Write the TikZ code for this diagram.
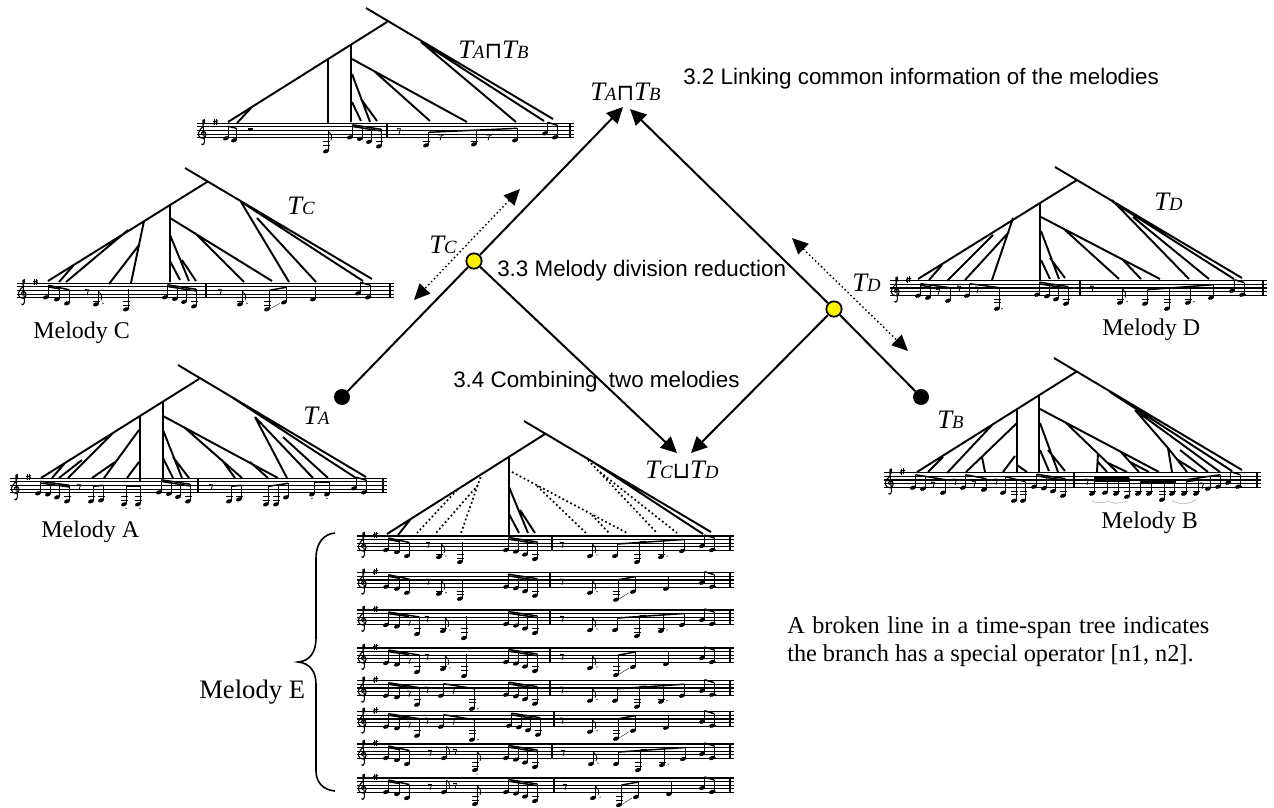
\documentclass[tikz,border=0pt]{standalone}
\usepackage{fontspec}
\setmainfont{Liberation Serif}
\newfontfamily\gothicfont{Liberation Sans}
\newfontfamily\symbolfont{DejaVu Sans}
\usetikzlibrary{positioning,arrows.meta}

\tikzset{
  tree/.style={line width=1.45pt},
  brokentree/.style={line width=1.3pt,dotted},
  staffline/.style={line width=0.8pt},
  stemline/.style={line width=0.6pt},
  beamline/.style={line width=1.1pt},
  link/.style={line width=1.5pt},
  linkarrow/.style={line width=1.5pt,-{Triangle[length=12pt,width=11.5pt]}},
  dotarrow/.style={line width=1.1pt,dotted,{Triangle[length=12pt,width=11pt]}-{Triangle[length=12pt,width=11pt]}},
  leafdot/.style={circle,fill=black,minimum size=12pt,inner sep=0pt},
  opdot/.style={circle,fill=yellow,draw=black,line width=1.3pt,minimum size=11.5pt,inner sep=0pt},
  treelabel/.style={anchor=base west,inner sep=0pt,font=\fontsize{20}{22}\selectfont},
  melname/.style={anchor=base west,inner sep=0pt,font=\fontsize{18}{22}\selectfont},
  section/.style={anchor=base west,inner sep=0pt,font=\gothicfont\fontsize{16.8}{18}\selectfont},
}

% T with its letter on the same baseline
\newcommand{\tsub}[1]{{\itshape T{\fontsize{14}{15}\selectfont #1}}}
\newcommand{\meetop}{{\symbolfont\fontsize{17}{15}\selectfont ⊓}}
\newcommand{\joinop}{{\symbolfont\fontsize{17}{15}\selectfont ⊔}}

% music, coordinates relative to the top staff line
\newcommand{\nhead}[2]{%
  \fill[shift={(#1,#2)},rotate=20] (0,0) ellipse [x radius=2.3pt,y radius=1.5pt];
  \ifdim#2pt>20pt \draw[stemline] (#1-3.5,18.3) -- (#1+3.5,18.3); \fi
  \ifdim#2pt>24.5pt \draw[stemline] (#1-3.5,22) -- (#1+3.5,22); \fi
}
\newcommand{\nstem}[3]{\nhead{#1}{#2}\draw[stemline] (#1+2.4,#2) -- (#1+2.4,#3);}
\newcommand{\nflag}[3]{\nstem{#1}{#2}{#3}%
  \draw[stemline] (#1+2.4,#3) .. controls (#1+5,#3+3) and (#1+7,#3+5) .. (#1+5,#3+9);}
\newcommand{\grp}[5]{%
  \foreach \nx/\ny in {#5} {
    \pgfmathsetmacro{\ntop}{#2+(\nx-#1)*(#4-#2)/(#3-#1)}
    \nstem{\nx}{\ny}{\ntop}
  }
  \draw[beamline] (#1+2.4,#2) -- (#3+2.4,#4);
}
\newcommand{\rst}[2]{\draw[stemline] (#1-1.5,#2-1.5) -- (#1+1.5,#2-1.5) -- (#1,#2+4);
  \fill (#1-1.2,#2-1.5) circle [radius=0.7pt];}
\newcommand{\augdot}[2]{\fill (#1,#2) circle [radius=0.55pt];}
\newcommand{\clefsign}{%
  \draw[line width=0.8pt] (4.5,20.5) .. controls (6,23) and (8,20) .. (7.3,16) -- (6,1) -- (6,-3)
    .. controls (8.5,-6) and (8.5,1) .. (3.5,6) .. controls (0,10) and (1,15) .. (6,15)
    .. controls (10,15) and (10,8) .. (6.5,8) .. controls (4,8) and (4,11) .. (5.5,12);
  \draw[stemline] (17.5,-4) -- (17.5,2) (19.5,-4.5) -- (19.5,1.5);
  \draw[line width=0.8pt] (16,-1.5) -- (21,-2.5) (16,0.5) -- (21,-0.5);
}
\newcommand{\staff}[2]{%
  \foreach \k in {0,...,4} \draw[staffline] (0,\k*3.65) -- (#1,\k*3.65);
  \draw[line width=0.9pt] (#2,0) -- (#2,14.6) (#1-4,0) -- (#1-4,14.6);
  \clefsign
}
\newcommand{\melline}[4]{%
  \begin{scope}[shift={(#1,#2)}]
    \staff{377}{#3}
    #4
  \end{scope}
}
% the four notes of the middle of the first bar
\newcommand{\runmid}[1]{%
  \begin{scope}[shift={(#1,0)}]
    \grp{0}{1.5}{29}{6}{0/14,10/15.5,19/18.5,29/23}
    \draw[beamline] (2.4,3.2) -- (31.4,7.7);
  \end{scope}
}
\newcommand{\runtail}[1]{%
  \begin{scope}[shift={(#1,0)}]
    \grp{0}{-1}{10}{2}{0/10,10/14}
    \augdot{13.5}{14}
  \end{scope}
}
\newcommand{\headthree}{\grp{29}{2}{50}{6.5}{29/14,40/16,50/20}
  \draw[beamline] (31.4,3.6) -- (42.4,5.6);}
\newcommand{\headrest}{\grp{29}{2}{60}{7}{29/15,40/16.5,60/24}
  \draw[beamline] (31.4,3.6) -- (52,6.6); \rst{52}{12}}
\newcommand{\barwide}[1]{%
  \begin{scope}[shift={(#1,0)}]
    \rst{0}{8}
    \nflag{28}{20}{8}\augdot{35}{19}
    \grp{53}{8}{120}{3.5}{53/20,75/26,99/21,120/15}
    \draw[beamline] (77.4,6) -- (84,5.6);
    \augdot{105}{20}
  \end{scope}
}
\newcommand{\barnarrow}[1]{%
  \begin{scope}[shift={(#1,0)}]
    \rst{0}{8}
    \nflag{28}{20}{8}\augdot{35}{19}
    \grp{54}{7}{71}{4}{54/27,71/19}
    \draw[line width=0.25pt] (56,27) -- (67,20);
    \nstem{104}{16}{3}
  \end{scope}
}

\begin{document}
\begin{tikzpicture}[x=0.75pt,y=-0.75pt]
  \useasboundingbox (0,0) rectangle (1274,807);

  % Tree of the meet
  \draw[tree] (366,8) -- (553,119) (387,22) -- (228,122) (328,60) -- (328,124) (351,45) -- (351,122)
    (237,123) -- (251,108) (352,59) -- (467,122) (374,71) -- (430,121) (352,74) -- (370,122)
    (352,102) -- (361,121) (361,99) -- (377,121) (421,42) -- (516,122) (423,43) -- (544,121);
  \melline{197}{123.3}{190}{
    \grp{29}{3}{37}{5}{29/15,37/17}
    \fill (51,4.5) rectangle (56,6.5);
    \nflag{129}{28}{8}
    \runmid{153}
    \rst{202}{7}
    \grp{229}{9}{318}{5}{229/22,277/21,318/17}
    \rst{243}{13}\rst{291}{13}\augdot{246}{12}\augdot{294}{12}
    \runtail{348}
  }

  % Tree C
  \draw[tree] (185,168) -- (372,279) (207,182) -- (48,281) (170,205) -- (170,282)
    (144,221) -- (131,283) (139,245) -- (109,284) (128,230) -- (66,282) (73,266) -- (59,282)
    (170,218) -- (272,281) (195,233) -- (244,282) (170,235) -- (189,281) (170,261) -- (180,280)
    (182,260) -- (196,281) (241,202) -- (289,282) (257,218) -- (316,282) (243,203) -- (363,281);
  \melline{17}{283.3}{189}{
    \headthree
    \rst{70}{8}
    \nflag{79}{21}{8}\augdot{86}{20}
    \nstem{109}{26}{6}
    \runmid{148}
    \rst{203}{8}
    \nflag{223}{21}{8}\augdot{230}{20}
    \grp{250}{7}{267}{4}{250/26,267/19}
    \draw[line width=0.25pt] (252,26) -- (263,20);
    \nstem{296}{16}{4}
    \runtail{341}
  }

  % Tree D
  \draw[tree] (1055,167) -- (1242,278) (1077,180) -- (918,279) (1040,203) -- (1040,280)
    (1013,218) -- (992,280) (1009,232) -- (965,280) (993,235) -- (947,281) (942,265) -- (929,280)
    (1041,217) -- (1160,279) (1065,230) -- (1119,279) (1122,259) -- (1141,279) (1041,231) -- (1059,279)
    (1041,260) -- (1050,279) (1050,258) -- (1065,278) (1112,200) -- (1189,279) (1133,217) -- (1209,279)
    (1113,202) -- (1234,279);
  \melline{890}{280.7}{190}{
    \grp{28}{3}{58}{7}{28/15,38/17,58/20}
    \draw[beamline] (30.4,4.7) -- (41,6);
    \rst{48}{10}\rst{69}{7}
    \grp{77}{3}{107}{7}{77/15,107/28}
    \rst{87}{8}\augdot{112}{28}
    \runmid{147}
    \rst{202}{7}
    \nflag{230}{22}{8}\augdot{237}{21}
    \grp{255}{9}{321}{4}{255/23,277/28,298/22,321/17}
    \augdot{304}{21}
    \runtail{342}
  }

  % Tree A
  \draw[tree] (178,365) -- (366,477) (199,379) -- (41,478) (140,417) -- (140,482) (163,402) -- (163,478)
    (139,430) -- (104,478) (115,462) -- (92,478) (139,462) -- (127,478) (113,433) -- (68,478)
    (82,460) -- (59,478) (65,463) -- (52,478) (163,416) -- (278,478) (185,428) -- (242,478)
    (222,460) -- (235,478) (250,462) -- (268,478) (163,430) -- (182,478) (163,458) -- (173,478)
    (173,457) -- (189,478) (233,398) -- (356,478) (255,417) -- (287,478) (255,417) -- (313,478)
    (283,437) -- (328,478);
  \melline{10}{478.3}{188}{
    \grp{28}{3}{57}{7}{28/15,38/16,47/19,57/23}
    \draw[beamline] (30.4,4.7) -- (59.4,8.7);
    \rst{69}{8}
    \grp{81}{8}{91}{7}{81/23,91/22}
    \grp{114}{8}{128}{8}{114/26,128/26}
    \augdot{116}{30}\augdot{130}{30}
    \runmid{149}
    \rst{201}{8}
    \grp{219}{8}{229}{7}{219/23,229/21}
    \grp{256}{8}{276}{5}{256/26,266/26,276/19}
    \grp{302}{4}{317}{4}{302/16,317/16}
    \augdot{302}{20}\augdot{317}{20}
    \runtail{344}
  }

  % Tree B
  \draw[tree] (1054,358) -- (1242,470) (1076,372) -- (917,472) (1017,410) -- (1017,473) (1039,395) -- (1039,472)
    (1017,423) -- (966,472) (982,457) -- (985,472) (993,424) -- (947,473) (943,457) -- (928,472)
    (1015,456) -- (1003,472) (1017,465) -- (1027,472) (1040,409) -- (1159,472) (1065,422) -- (1117,472)
    (1098,453) -- (1097,472) (1098,462) -- (1107,472) (1108,463) -- (1127,472) (1120,451) -- (1139,472)
    (1130,462) -- (1149,472) (1040,423) -- (1058,472) (1040,450) -- (1049,471) (1048,450) -- (1065,471)
    (1110,392) -- (1232,471) (1135,410) -- (1220,472) (1135,410) -- (1168,448) -- (1172,472)
    (1168,448) -- (1187,472) (1178,460) -- (1197,472) (1180,450) -- (1208,472);
  \melline{884}{472.7}{190}{
    \grp{29}{2}{59}{7}{29/15,39/16,59/20}
    \rst{49}{11}\rst{71}{8}
    \grp{79}{2}{100}{6}{79/15,100/17}
    \rst{90}{10}\rst{112}{8}
    \grp{119}{4}{139}{9}{119/20,130/28,139/28}
    \runmid{150}
    \rst{203}{8}
    \grp{208}{5}{243}{5}{208/21,221/20,232/21,243/24}
    \fill (210.4,4.5) rectangle (245.4,9);
    \grp{254}{7}{288}{7}{254/21,265/21,278/27,288/21}
    \fill (256.4,7) rectangle (292,11);
    \grp{300}{7}{334}{2}{300/21,312/21,324/16,334/14}
    \draw[beamline] (302.4,9) -- (312,7.6);
    \rst{318}{12}
    \draw[line width=0.25pt,gray] (208,28) .. controls (216,33) and (222,28) .. (226,29)
      .. controls (232,33) and (240,28) .. (244,29) (288,28) .. controls (296,32) and (304,32) .. (312,27);
    \runtail{344}
  }

  % Tree E
  \draw[tree] (524,421) -- (711,532) (545,434) -- (387,534) (509,457) -- (509,535) (410,520) -- (398,535)
    (509,487) -- (528,533) (509,514) -- (519,533) (520,510) -- (535,533) (590,460) -- (703,534);
  \draw[brokentree] (482,473) -- (461,533) (478,485) -- (436,533) (457,490) -- (417,533)
    (512,472) -- (627,533) (537,486) -- (586,533) (592,515) -- (609,533)
    (588,460) -- (657,533) (600,472) -- (677,533);
  \melline{357}{536}{195}{
    \headthree\rst{71}{8}\nflag{82}{21}{8}\augdot{89}{20}\nstem{103}{26}{6}\runmid{149}
    \barwide{205}\runtail{345}
  }
  \melline{357}{572.7}{193}{
    \headthree\rst{71}{8}\nflag{82}{21}{8}\augdot{89}{20}\nstem{103}{26}{6}\runmid{149}
    \barnarrow{205}\runtail{345}
  }
  \melline{357}{610}{193}{
    \headrest\rst{70}{8}\nflag{86}{21}{8}\augdot{93}{20}\nstem{107}{28}{6}\runmid{149}
    \barwide{205}\runtail{345}
  }
  \melline{357}{648}{193}{
    \headrest\rst{70}{8}\nflag{86}{21}{8}\augdot{93}{20}\nstem{107}{28}{6}\runmid{149}
    \barnarrow{205}\runtail{345}
  }
  \melline{357}{680.7}{193}{
    \headrest\rst{70}{8}\grp{84}{3}{115}{8}{84/15,115/28}\rst{96}{9}\augdot{121}{28}\runmid{149}
    \barwide{205}\runtail{345}
  }
  \melline{357}{711.7}{197}{
    \headrest\rst{70}{8}\grp{84}{3}{115}{8}{84/15,115/28}\rst{96}{9}\augdot{121}{28}\runmid{152}
    \barnarrow{205}\runtail{345}
  }
  \melline{357}{744}{195}{
    \headthree\rst{73}{8}\nflag{87}{14}{2}\rst{98}{7}\nflag{118}{26}{8}\augdot{120}{30}\runmid{149}
    \barwide{206}\runtail{345}
  }
  \melline{357}{778}{197}{
    \headthree\rst{73}{8}\nflag{87}{14}{2}\rst{98}{7}\nflag{118}{26}{8}\runmid{149}
    \barnarrow{208}\runtail{345}
  }

  % Brace of melody E
  \draw[line width=1.2pt] (335,533) .. controls (323,534) and (316,544) .. (316,558) -- (316,638)
    .. controls (316,652) and (310,661) .. (298,662) .. controls (310,663) and (316,672) .. (316,684)
    -- (316,771) .. controls (316,782) and (323,790) .. (335,791);

  % Links between the trees
  \node[leafdot] (leafA) at (342,397) {};
  \node[leafdot] (leafB) at (921,397) {};
  \node[opdot] (divC) at (474,261) {};
  \node[opdot] (divD) at (834,309) {};
  \coordinate (meetL) at (623,107);
  \coordinate (meetR) at (630,109);
  \coordinate (joinL) at (677,453);
  \coordinate (joinR) at (691,453);
  \coordinate (dotCa) at (520,189);
  \coordinate (dotCb) at (414,300);
  \coordinate (dotDa) at (792,238);
  \coordinate (dotDb) at (908,351);
  \draw[link] (leafA) -- (divC);
  \draw[link] (leafB) -- (divD);
  \draw[linkarrow] (divC) -- (meetL);
  \draw[linkarrow] (divD) -- (meetR);
  \draw[linkarrow] (divC) -- (joinL);
  \draw[linkarrow] (divD) -- (joinR);
  \draw[dotarrow] (dotCa) -- (dotCb);
  \draw[dotarrow] (dotDa) -- (dotDb);

  % Labels
  \node[treelabel] (labelTop) at (458,58) {\tsub{A}\meetop\tsub{B}};
  \node[treelabel] (labelMeet) at (590,100) {\tsub{A}\meetop\tsub{B}};
  \node[treelabel] (labelTC) at (429,253) {\tsub{C}};
  \node[treelabel] (labelTD) at (852,291) {\tsub{D}};
  \node[treelabel] (labelTA) at (303,424) {\tsub{A}};
  \node[treelabel] (labelTB) at (937,428) {\tsub{B}};
  \node[treelabel] (treeTC) at (287,214) {\tsub{C}};
  \node[treelabel] (treeTD) at (1154,210) {\tsub{D}};
  \node[treelabel] (labelJoin) at (645,478) {\tsub{C}\joinop\tsub{D}};
  \node[melname] (melC) at (33,338) {Melody C};
  \node[melname] (melD) at (1102,335) {Melody D};
  \node[melname] (melA) at (41,537) {Melody A};
  \node[melname] (melB) at (1101,528) {Melody B};
  \node[melname,font=\fontsize{20}{24}\selectfont] (melE) at (199,698) {Melody E};
  \node[section] (sec32) at (683,84) {3.2 Linking common information of the melodies};
  \node[section] (sec33) at (497,276) {3.3 Melody division reduction};
  \node[section] (sec34) at (453,387) {3.4 Combining\hspace{0.5em}two melodies};
  \node[melname,font=\fontsize{18.2}{22}\selectfont] (note1) at (787,633) {\makebox[316.5pt][s]{A broken line in a time-span tree indicates}};
  \node[melname,font=\fontsize{18.2}{22}\selectfont] (note2) at (787,661) {the branch has a special operator [n1, n2].};
\end{tikzpicture}
\end{document}
